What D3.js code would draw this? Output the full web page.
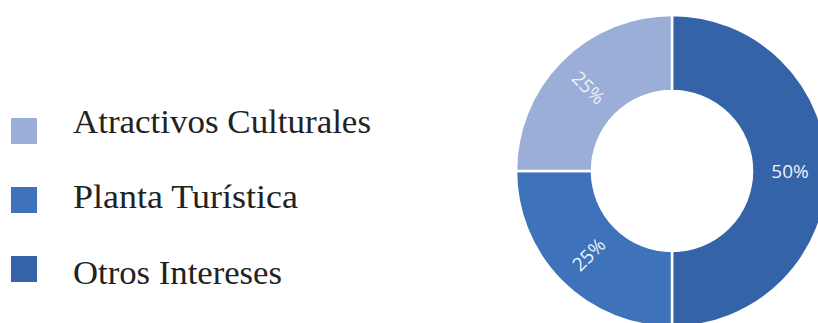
<!DOCTYPE html>
<html><head><meta charset="utf-8">
<script src="https://cdn.jsdelivr.net/npm/d3@7"></script>
<style>html,body{margin:0;padding:0;background:#fff;}svg{display:block;}</style>
</head><body>
<svg id="chart" width="818" height="323"></svg>
<script>
const categories = ["Atractivos Culturales", "Planta Turística", "Otros Intereses"];
const values = [25, 25, 50];
const colors = ["#9BAED8", "#3E72BA", "#3463A8"];
const labelWidths = [298, 225, 209];

const svg = d3.select("#chart");

// Legend
const swatchY = d3.scalePoint().domain(categories).range([131, 269]);
const textY = d3.scalePoint().domain(categories).range([132.5, 284]);
const leg = svg.append("g");
leg.selectAll("rect").data(categories).enter().append("rect")
  .attr("x", 11).attr("y", d => swatchY(d) - 13).attr("width", 26).attr("height", 26)
  .attr("fill", (d, i) => colors[i]);
leg.selectAll("text").data(categories).enter().append("text")
  .attr("x", 73).attr("y", d => textY(d))
  .attr("font-family", "'Liberation Serif', 'DejaVu Serif', serif")
  .attr("font-size", 34).attr("fill", "#222")
  .attr("textLength", (d, i) => labelWidths[i]).attr("lengthAdjust", "spacingAndGlyphs")
  .text(d => d);

// Donut
const cx = 672, cy = 171, rOuter = 156, rInner = 80;
const items = categories.map((c, i) => ({cat: c, value: values[i], color: colors[i]})).reverse();
const pie = d3.pie().sort(null).value(d => d.value);
const arcs = pie(items);
const arc = d3.arc().innerRadius(rInner).outerRadius(rOuter);
const g = svg.append("g").attr("transform", `translate(${cx},${cy})`);
g.selectAll("path").data(arcs).enter().append("path")
  .attr("d", arc).attr("fill", d => d.data.color)
  .attr("stroke", "#fff").attr("stroke-width", 2.5);

const total = d3.sum(values);
const labelArc = d3.arc().innerRadius(118).outerRadius(118);
g.selectAll("text").data(arcs).enter().append("text")
  .attr("transform", d => {
    const [x, y] = labelArc.centroid(d);
    let deg = (d.startAngle + d.endAngle) / 2 * 180 / Math.PI - 90;
    while (deg > 90) deg -= 180;
    while (deg < -90) deg += 180;
    return `translate(${x},${y}) rotate(${deg})`;
  })
  .attr("text-anchor", "middle").attr("dominant-baseline", "central")
  .attr("font-family", "'Open Sans', sans-serif").attr("font-size", 19)
  .attr("fill", "#eef1f8")
  .text(d => Math.round(d.data.value / total * 100) + "%");
</script>
</body></html>
